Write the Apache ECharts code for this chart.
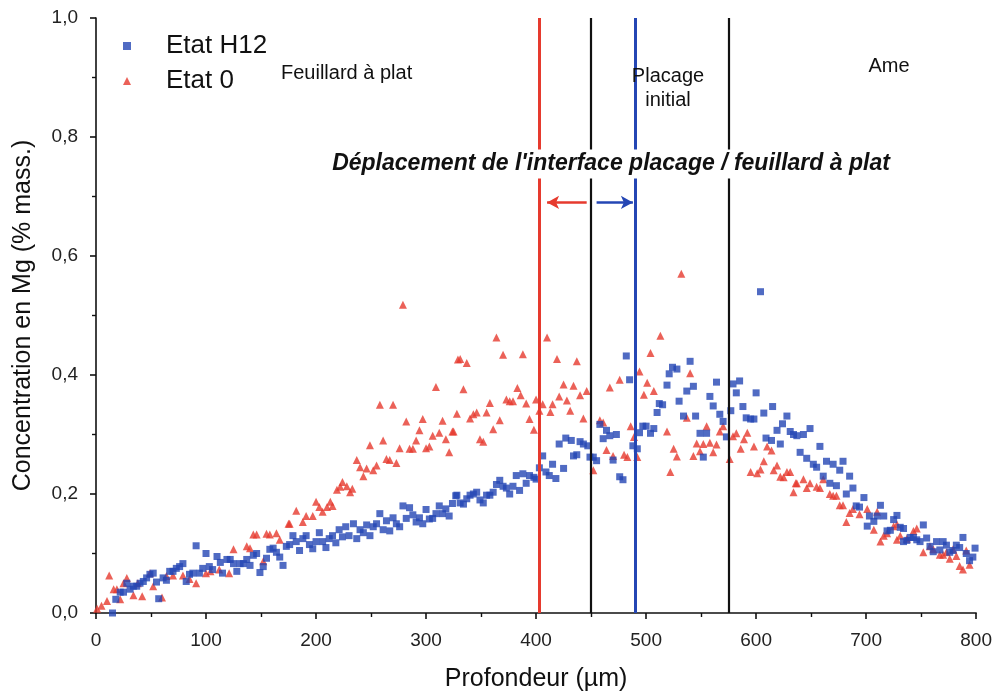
<!DOCTYPE html>
<html>
<head>
    <meta charset="UTF-8">
    <title>Concentration en Mg</title>
    <script src="https://cdn.jsdelivr.net/npm/echarts@6/dist/echarts.min.js"></script>
</head>
<body style="margin: 0;overflow: hidden;background: #fff;">
<div id="chart" style="width: 995px;height: 697px"></div>
<script type="text/javascript">
    // Etat H12 (carrés bleus) : [profondeur µm, % mass.]
    var etatH12 = [
        [15, 0.00], [18, 0.023], [22, 0.035], [25, 0.035], [28, 0.05], [31, 0.04], [34, 0.045], [37, 0.045],
        [40, 0.05], [43, 0.053], [46, 0.059], [49, 0.065], [52, 0.067], [55, 0.052], [57, 0.024], [61, 0.059],
        [64, 0.055], [67, 0.07], [70, 0.07], [73, 0.075], [76, 0.078], [79, 0.083], [82, 0.053], [85, 0.065],
        [88, 0.067], [91, 0.113], [94, 0.067], [97, 0.075], [100, 0.1], [103, 0.078], [106, 0.073], [110, 0.095],
        [113, 0.085], [115, 0.067], [119, 0.09], [122, 0.09], [125, 0.083], [128, 0.07], [131, 0.083], [134, 0.083],
        [137, 0.09], [140, 0.08], [143, 0.097], [146, 0.1], [149, 0.068], [152, 0.078], [155, 0.092], [158, 0.107],
        [161, 0.109], [164, 0.102], [167, 0.094], [170, 0.08], [173, 0.112], [176, 0.115], [179, 0.13], [182, 0.12],
        [185, 0.105], [188, 0.125], [191, 0.13], [194, 0.115], [197, 0.108], [200, 0.12], [203, 0.135], [206, 0.12],
        [209, 0.11], [212, 0.125], [215, 0.13], [218, 0.118], [221, 0.14], [224, 0.128], [227, 0.145], [230, 0.13],
        [234, 0.15], [237, 0.125], [240, 0.14], [243, 0.135], [246, 0.148], [249, 0.13], [252, 0.145], [255, 0.15],
        [258, 0.167], [261, 0.14], [264, 0.155], [267, 0.138], [270, 0.16], [273, 0.15], [276, 0.145], [279, 0.18],
        [282, 0.159], [285, 0.177], [288, 0.165], [291, 0.153], [294, 0.16], [297, 0.15], [300, 0.174], [303, 0.158],
        [306, 0.159], [309, 0.167], [312, 0.18], [315, 0.167], [318, 0.175], [321, 0.163], [324, 0.184], [327, 0.197],
        [328, 0.198], [331, 0.185], [334, 0.183], [337, 0.192], [340, 0.198], [343, 0.2], [346, 0.203], [349, 0.19],
        [352, 0.185], [355, 0.198], [358, 0.198], [361, 0.203], [364, 0.216], [367, 0.223], [370, 0.213], [373, 0.21],
        [376, 0.2], [379, 0.213], [382, 0.231], [385, 0.206], [388, 0.234], [391, 0.218], [394, 0.231], [398, 0.228],
        [400, 0.225], [403, 0.244], [406, 0.264], [409, 0.237], [412, 0.231], [415, 0.25], [418, 0.226], [421, 0.284],
        [425, 0.243], [427, 0.294], [432, 0.29], [434, 0.264], [437, 0.266], [440, 0.288], [443, 0.284], [447, 0.281],
        [449, 0.262], [452, 0.262], [455, 0.256], [458, 0.317], [461, 0.293], [464, 0.307], [467, 0.298], [470, 0.257],
        [473, 0.3], [476, 0.229], [479, 0.224], [482, 0.432], [485, 0.392], [488, 0.281], [492, 0.276], [494, 0.303],
        [497, 0.314], [500, 0.314], [504, 0.302], [507, 0.31], [510, 0.337], [512, 0.352], [515, 0.35], [519, 0.383],
        [521, 0.402], [524, 0.413], [528, 0.41], [530, 0.356], [534, 0.331], [537, 0.373], [540, 0.423], [543, 0.381],
        [545, 0.331], [549, 0.302], [552, 0.262], [555, 0.302], [558, 0.364], [561, 0.348], [564, 0.388], [567, 0.334],
        [570, 0.322], [573, 0.296], [577, 0.34], [579, 0.385], [582, 0.37], [585, 0.39], [588, 0.347], [591, 0.328],
        [595, 0.326], [598, 0.326], [600, 0.37], [604, 0.54], [607, 0.336], [609, 0.294], [614, 0.29], [615, 0.347],
        [619, 0.307], [622, 0.284], [624, 0.318], [628, 0.331], [631, 0.305], [634, 0.30], [637, 0.298], [640, 0.27],
        [643, 0.3], [646, 0.26], [649, 0.31], [652, 0.25], [655, 0.245], [658, 0.28], [661, 0.23], [664, 0.255],
        [667, 0.218], [670, 0.25], [673, 0.214], [676, 0.24], [679, 0.255], [682, 0.2], [685, 0.23], [688, 0.21],
        [691, 0.18], [694, 0.178], [698, 0.194], [701, 0.146], [703, 0.163], [707, 0.154], [710, 0.163], [713, 0.181],
        [716, 0.163], [719, 0.138], [722, 0.139], [725, 0.157], [728, 0.164], [731, 0.144], [734, 0.142], [734, 0.12],
        [737, 0.122], [740, 0.127], [743, 0.127], [746, 0.123], [749, 0.12], [752, 0.148], [755, 0.126], [758, 0.112],
        [761, 0.103], [764, 0.12], [767, 0.106], [770, 0.12], [773, 0.114], [776, 0.102], [779, 0.105], [782, 0.114],
        [785, 0.11], [788, 0.127], [791, 0.1], [794, 0.088], [797, 0.094], [799, 0.109]
    ];

    // Etat 0 (triangles rouges)
    var etat0 = [
        [1, 0.007], [5, 0.012], [10, 0.02], [12, 0.063], [16, 0.04], [19, 0.04], [22, 0.023], [25, 0.05],
        [28, 0.059], [34, 0.03], [38, 0.05], [42, 0.028], [49, 0.067], [52, 0.045], [60, 0.026], [64, 0.062],
        [70, 0.063], [79, 0.063], [85, 0.057], [91, 0.05], [100, 0.067], [104, 0.07], [112, 0.073], [121, 0.067],
        [125, 0.107], [137, 0.112], [140, 0.109], [143, 0.132], [146, 0.132], [152, 0.087], [155, 0.133], [158, 0.132],
        [164, 0.134], [167, 0.123], [175, 0.15], [176, 0.15], [182, 0.172], [188, 0.153], [191, 0.163], [197, 0.163],
        [200, 0.187], [203, 0.178], [206, 0.17], [210, 0.178], [213, 0.187], [215, 0.18], [219, 0.207], [222, 0.212],
        [224, 0.22], [228, 0.213], [231, 0.203], [233, 0.209], [237, 0.257], [240, 0.245], [243, 0.23], [246, 0.243],
        [249, 0.282], [252, 0.24], [255, 0.248], [258, 0.35], [261, 0.29], [264, 0.259], [267, 0.257], [270, 0.35],
        [273, 0.252], [276, 0.277], [279, 0.518], [282, 0.322], [285, 0.276], [288, 0.276], [291, 0.29], [294, 0.307],
        [297, 0.326], [300, 0.277], [303, 0.28], [306, 0.298], [309, 0.38], [312, 0.303], [315, 0.323], [318, 0.292],
        [321, 0.27], [324, 0.305], [325, 0.305], [328, 0.335], [329, 0.426], [331, 0.427], [334, 0.376], [337, 0.42],
        [340, 0.327], [343, 0.334], [346, 0.337], [349, 0.292], [352, 0.288], [355, 0.337], [358, 0.353], [361, 0.309],
        [364, 0.463], [367, 0.324], [370, 0.434], [373, 0.359], [376, 0.356], [379, 0.356], [383, 0.378], [386, 0.366],
        [388, 0.435], [391, 0.352], [394, 0.326], [398, 0.308], [400, 0.359], [403, 0.34], [406, 0.351], [410, 0.463],
        [413, 0.338], [415, 0.351], [419, 0.427], [421, 0.364], [425, 0.384], [428, 0.357], [431, 0.34], [434, 0.382],
        [437, 0.423], [440, 0.366], [443, 0.327], [446, 0.373], [452, 0.24], [458, 0.324], [461, 0.32], [464, 0.274],
        [467, 0.379], [470, 0.264], [476, 0.392], [480, 0.266], [483, 0.262], [486, 0.314], [489, 0.296], [492, 0.262],
        [494, 0.406], [498, 0.367], [501, 0.387], [504, 0.437], [507, 0.373], [513, 0.466], [519, 0.305], [522, 0.237],
        [525, 0.276], [528, 0.263], [532, 0.57], [537, 0.328], [540, 0.403], [543, 0.264], [546, 0.285], [549, 0.272],
        [552, 0.284], [555, 0.314], [558, 0.286], [561, 0.27], [564, 0.283], [567, 0.305], [570, 0.314], [576, 0.259],
        [579, 0.297], [582, 0.302], [586, 0.276], [589, 0.292], [592, 0.303], [595, 0.237], [598, 0.28], [601, 0.235],
        [604, 0.241], [607, 0.255], [610, 0.28], [614, 0.273], [616, 0.24], [619, 0.248], [622, 0.229], [625, 0.228],
        [628, 0.237], [631, 0.237], [634, 0.203], [636, 0.218], [637, 0.218], [643, 0.225], [646, 0.21], [649, 0.218],
        [655, 0.212], [658, 0.21], [661, 0.225], [667, 0.2], [670, 0.197], [673, 0.197], [676, 0.181], [679, 0.181],
        [682, 0.153], [685, 0.168], [688, 0.175], [694, 0.166], [701, 0.175], [707, 0.14], [710, 0.17], [713, 0.12],
        [716, 0.13], [719, 0.134], [725, 0.146], [728, 0.149], [728, 0.123], [731, 0.13], [737, 0.125], [743, 0.138],
        [746, 0.142], [752, 0.102], [758, 0.112], [761, 0.107], [767, 0.098], [770, 0.098], [773, 0.102], [776, 0.091],
        [779, 0.107], [782, 0.096], [785, 0.079], [788, 0.073], [791, 0.105], [794, 0.081]
    ];

    // interfaces (µm)
    var interfaceEtat0 = 403;
    var interfaceH12 = 490;
    var limitesPlacage = [450, 575];
    // flèches de déplacement : [départ, arrivée] en µm, à la hauteur arrowLevel
    var arrowLevel = 0.69;
    var arrowEtat0 = [446, 410];
    var arrowH12 = [455, 488];

    var red = '#e63a2e', blue = '#2446b4';
    var font = 'Liberation Sans, Arial, sans-serif';

    var chart = echarts.init(document.getElementById('chart'));

    var option = {
        animation: false,
        grid: {left: 96, right: 18, top: 18, bottom: 80},
        legend: {
            orient: 'vertical',
            left: 118,
            top: 28,
            itemWidth: 8,
            itemHeight: 8,
            itemGap: 9,
            textStyle: {fontSize: 26, color: '#111', fontFamily: font, padding: [0, 0, 0, 30]},
            data: [{name: 'Etat H12', icon: 'rect'}, {name: 'Etat 0', icon: 'triangle'}]
        },
        xAxis: {
            type: 'value',
            min: 0,
            max: 800,
            interval: 100,
            name: 'Profondeur (µm)',
            nameLocation: 'middle',
            nameGap: 54,
            nameTextStyle: {fontSize: 25, color: '#111', fontFamily: font},
            axisLine: {lineStyle: {color: '#111', width: 1.6}},
            axisTick: {length: 6, lineStyle: {color: '#111', width: 1.6}},
            minorTick: {show: true, splitNumber: 2, length: 4, lineStyle: {color: '#111', width: 1.4}},
            splitLine: {show: false},
            axisLabel: {fontSize: 19, color: '#222', margin: 18, fontFamily: font}
        },
        yAxis: {
            type: 'value',
            min: 0,
            max: 1,
            interval: 0.2,
            name: 'Concentration en Mg (% mass.)',
            nameLocation: 'middle',
            nameGap: 60,
            nameTextStyle: {fontSize: 25, color: '#111', fontFamily: font},
            axisLine: {show: true, lineStyle: {color: '#111', width: 1.6}},
            axisTick: {show: true, length: 6, lineStyle: {color: '#111', width: 1.6}},
            minorTick: {show: true, splitNumber: 2, length: 4, lineStyle: {color: '#111', width: 1.4}},
            splitLine: {show: false},
            axisLabel: {
                fontSize: 19, color: '#222', margin: 18, fontFamily: font,
                formatter: function (v) {
                    return v.toFixed(1).replace('.', ',');
                }
            }
        },
        series: [
            {
                name: 'Etat 0',
                type: 'scatter',
                symbol: 'triangle',
                symbolSize: 8,
                itemStyle: {color: red},
                data: etat0,
                z: 2
            },
            {
                name: 'Etat H12',
                type: 'scatter',
                symbol: 'rect',
                symbolSize: 7,
                itemStyle: {color: blue},
                data: etatH12,
                z: 3,
                markLine: {
                    silent: true,
                    symbol: 'none',
                    label: {show: false},
                    data: [
                        {xAxis: interfaceEtat0, lineStyle: {color: red, width: 3, type: 'solid'}},
                        {xAxis: limitesPlacage[0], lineStyle: {color: '#111', width: 2.2, type: 'solid'}},
                        {xAxis: interfaceH12, lineStyle: {color: blue, width: 3, type: 'solid'}},
                        {xAxis: limitesPlacage[1], lineStyle: {color: '#111', width: 2.2, type: 'solid'}},
                        [
                            {coord: [arrowEtat0[0], arrowLevel], symbol: 'none', lineStyle: {color: red, width: 2.5, type: 'solid'}},
                            {coord: [arrowEtat0[1], arrowLevel], symbol: 'arrow', symbolSize: [10, 12]}
                        ],
                        [
                            {coord: [arrowH12[0], arrowLevel], symbol: 'none', lineStyle: {color: blue, width: 2.5, type: 'solid'}},
                            {coord: [arrowH12[1], arrowLevel], symbol: 'arrow', symbolSize: [10, 12]}
                        ]
                    ]
                }
            }
        ],
        graphic: [
            {type: 'text', x: 281, y: 73, z: 100, style: {text: 'Feuillard à plat', fontSize: 20, fontFamily: font, fill: '#111', verticalAlign: 'middle'}},
            {type: 'text', x: 668, y: 88, z: 100, style: {text: 'Placage\ninitial', fontSize: 20, lineHeight: 24, fontFamily: font, fill: '#111', align: 'center', verticalAlign: 'middle'}},
            {type: 'text', x: 889, y: 66, z: 100, style: {text: 'Ame', fontSize: 20, fontFamily: font, fill: '#111', align: 'center', verticalAlign: 'middle'}},
            {type: 'text', x: 611, y: 164, z: 100, style: {text: "Déplacement de l'interface placage / feuillard à plat", fontSize: 23, fontWeight: 'bold', fontStyle: 'italic', fontFamily: font, fill: '#111', align: 'center', verticalAlign: 'middle', backgroundColor: '#fff', padding: [3, 2, 3, 2]}}
        ]
    };
    chart.setOption(option);
</script>
</body>
</html>
